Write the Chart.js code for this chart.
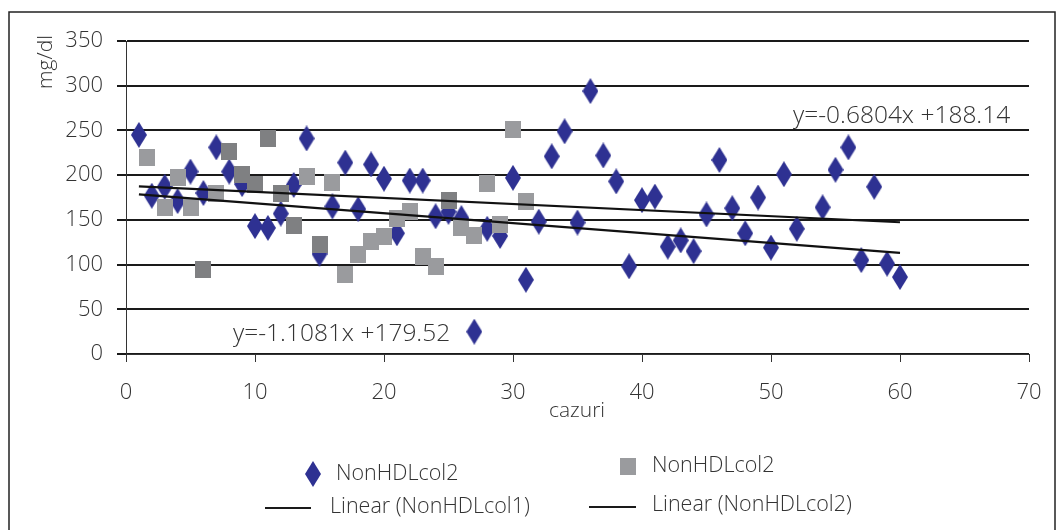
<!DOCTYPE html>
<html>
<head>
<meta charset="utf-8">
<script src="https://cdn.jsdelivr.net/npm/chart.js@4.4.0/dist/chart.umd.min.js"></script>
<style>
  html, body { margin: 0; padding: 0; background: #fff; }
  #wrap { position: relative; width: 1064px; height: 530px; overflow: hidden; }
  canvas { display: block; }
</style>
</head>
<body>
<div id="wrap"><canvas id="chart" width="1064" height="530"></canvas></div>
<script>
// diamonds (NonHDLcol2, first series)
const diamondX = [1, 2, 3, 4, 5, 6, 7, 8, 9, 10, 11, 12, 13, 14, 15, 16, 17, 18, 19, 20,
  21, 22, 23, 24, 25, 26, 27, 28, 29, 30, 31, 32, 33, 34, 35, 36, 37, 38, 39, 40,
  41, 42, 43, 44, 45, 46, 47, 48, 49, 50, 51, 52, 54, 55, 56, 57, 58, 59, 60];
const diamondY = [245, 177, 187, 171, 204, 180, 231, 204, 190, 143, 141, 157, 189, 241, 112, 165, 214, 162, 212, 196,
  135, 194, 194, 154, 159, 152, 25, 140, 132, 197, 83, 148, 221, 249, 147, 294, 222, 193, 98, 172,
  176, 120, 127, 115, 156, 217, 163, 135, 175, 119, 201, 140, 164, 206, 231, 105, 187, 101, 86];

// squares (NonHDLcol2, second series)
const squareX = [1.6, 3, 4, 5, 6, 7, 8, 9, 10, 11, 12, 13, 14, 15, 16, 17, 18, 19, 20,
  21, 22, 23, 24, 25, 26, 27, 28, 29, 30, 31];
const squareY = [220, 164, 197, 164, 95, 180, 226, 201, 190, 241, 180, 144, 199, 123, 192, 89, 111, 126, 131,
  152, 159, 109, 98, 172, 142, 132, 191, 145, 251, 170];
// squares printed in the darker grey
const darkSquareX = [6, 8, 9, 10, 11, 12, 13, 15, 25];

// trend line end points
const trendX = [1, 60];
const trend1Y = [178.4, 113.0];
const trend2Y = [187.5, 147.3];

const legendLabels = ['NonHDLcol2', 'NonHDLcol2', 'Linear (NonHDLcol1)', 'Linear (NonHDLcol2)'];
const eqLower = 'y=-1.1081x +179.52';
const eqUpper = 'y=-0.6804x +188.14';
const xTitle = 'cazuri';
const yTitle = 'mg/dl';

const FONT = '"Open Sans", "DejaVu Sans", sans-serif';
const TEXT = '#333';
const BLUE = '#2e3192';

function makeDiamond(color) {
    const c = document.createElement('canvas');
    c.width = 16; c.height = 26;
    const g = c.getContext('2d');
    g.fillStyle = color;
    g.beginPath();
    g.moveTo(8, 0); g.lineTo(16, 13); g.lineTo(8, 26); g.lineTo(0, 13);
    g.closePath();
    g.fill();
    return c;
}

function makeSquare(color) {
    const c = document.createElement('canvas');
    c.width = 16; c.height = 17;
    const g = c.getContext('2d');
    g.fillStyle = color;
    g.fillRect(0, 0, 16, 17);
    return c;
}

const diamondImg = makeDiamond(BLUE);
const lightSquare = makeSquare('#9a9b9e');
const darkSquare = makeSquare('#7f8082');

const toPoints = (xs, ys) => xs.map((x, i) => ({ x: x, y: ys[i] }));

// frame, titles, equations and the legend
const decor = {
    id: 'decor',
    beforeDraw(chart) {
        const ctx = chart.ctx;
        ctx.save();
        ctx.fillStyle = '#fff';
        ctx.fillRect(0, 0, chart.width, chart.height);
        ctx.strokeStyle = '#222';
        ctx.lineWidth = 1.5;
        ctx.strokeRect(9, 12, 1046, 600);
        ctx.restore();
    },
    afterDraw(chart) {
        const ctx = chart.ctx;
        ctx.save();
        ctx.fillStyle = TEXT;
        ctx.font = '300 21px ' + FONT;

        // axis titles
        ctx.textAlign = 'center';
        ctx.textBaseline = 'middle';
        ctx.fillText(xTitle, 577, 411);
        ctx.save();
        ctx.translate(46, 62);
        ctx.rotate(-Math.PI / 2);
        ctx.fillText(yTitle, 0, 0);
        ctx.restore();

        // trend equations
        ctx.font = '300 24.5px ' + FONT;
        ctx.textAlign = 'left';
        ctx.textBaseline = 'alphabetic';
        ctx.fillText(eqUpper, 793, 123);
        ctx.fillText(eqLower, 233, 341);

        // legend
        ctx.font = '300 21.5px ' + FONT;
        ctx.textBaseline = 'middle';
        ctx.drawImage(diamondImg, 313 - 8, 474 - 13);
        ctx.fillText(legendLabels[0], 336, 474);
        ctx.drawImage(lightSquare, 628 - 8, 466 - 8);
        ctx.fillText(legendLabels[1], 652, 466);

        ctx.strokeStyle = '#1a1a1a';
        ctx.lineWidth = 2;
        ctx.beginPath();
        ctx.moveTo(265, 508); ctx.lineTo(311, 508);
        ctx.moveTo(589, 507); ctx.lineTo(636, 507);
        ctx.stroke();
        ctx.fillText(legendLabels[2], 330, 507);
        ctx.fillText(legendLabels[3], 652, 505);
        ctx.restore();
    }
};

new Chart(document.getElementById('chart'), {
    type: 'scatter',
    data: {
        datasets: [
            {
                label: legendLabels[2],
                data: toPoints(trendX, trend1Y),
                showLine: true,
                borderColor: '#111',
                borderWidth: 2.2,
                pointRadius: 0,
                order: 0
            },
            {
                label: legendLabels[3],
                data: toPoints(trendX, trend2Y),
                showLine: true,
                borderColor: '#111',
                borderWidth: 2.2,
                pointRadius: 0,
                order: 0
            },
            {
                label: legendLabels[1],
                data: toPoints(squareX, squareY),
                pointStyle: (c) => darkSquareX.includes(squareX[c.dataIndex]) ? darkSquare : lightSquare,
                order: 1
            },
            {
                label: legendLabels[0],
                data: toPoints(diamondX, diamondY),
                pointStyle: diamondImg,
                order: 2
            }
        ]
    },
    options: {
        responsive: false,
        animation: false,
        layout: { padding: { top: 41, right: 35, left: 0, bottom: 0 } },
        plugins: {
            legend: { display: false },
            tooltip: { enabled: false }
        },
        scales: {
            x: {
                type: 'linear',
                min: 0,
                max: 70,
                ticks: { stepSize: 10, color: TEXT, font: { family: FONT, size: 22, weight: 300 }, padding: 18 },
                grid: { drawOnChartArea: false, drawTicks: true, tickLength: 8, color: '#333', lineWidth: 1 },
                border: { display: true, color: '#333', width: 1 },
                afterFit: (s) => { s.height = 176; }
            },
            y: {
                min: 0,
                max: 350,
                ticks: { stepSize: 50, color: TEXT, font: { family: FONT, size: 22, weight: 300 }, padding: 14 },
                grid: { color: '#1a1a1a', lineWidth: 2, tickLength: 9 },
                border: { display: true, color: '#333', width: 1 },
                afterFit: (s) => { s.width = 126; }
            }
        }
    },
    plugins: [decor]
});
</script>
</body>
</html>
